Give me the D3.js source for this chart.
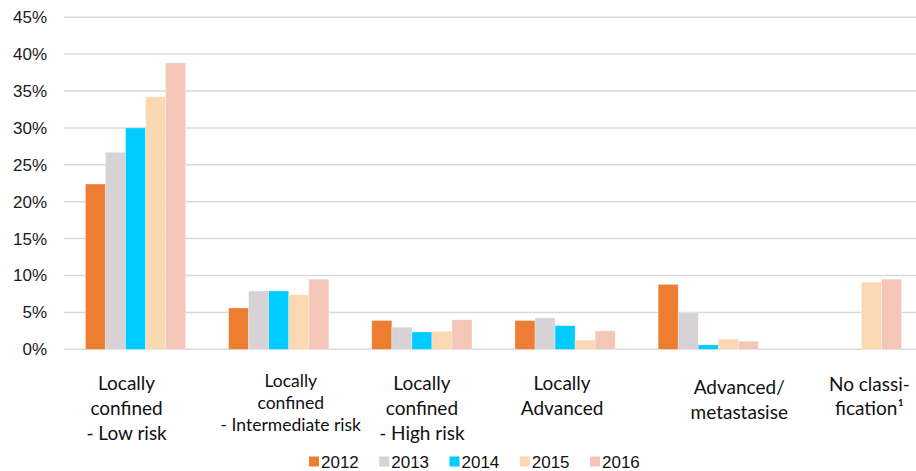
<!DOCTYPE html>
<html>
<head>
<meta charset="utf-8">
<script src="https://cdn.jsdelivr.net/npm/d3@7"></script>
<style>
  body { margin: 0; background: #fff; }
  .tick text { font-family: "Liberation Sans", Arial, sans-serif; }
</style>
</head>
<body>
<svg id="chart"></svg>
<script>
// categories on the x axis, each one is a list of label lines
var categories = ['lowRisk', 'intermediate', 'highRisk', 'advanced', 'metastasis', 'noClass'];
var categoryLines = [
    ['Locally', 'confined', '- Low risk'],
    ['Locally', 'confined', '- Intermediate risk'],
    ['Locally', 'confined', '- High risk'],
    ['Locally', 'Advanced'],
    ['Advanced/', 'metastasise'],
    ['No classi-', 'fication\u00b9']
];
var years = ['2012', '2013', '2014', '2015', '2016'];
var colors = ['#ED7D31', '#D6D2D5', '#00CCFF', '#FAD8B2', '#F4C6B8'];

// percentages per year, one value per category (null = no bar)
var v2012 = [22.4, 5.6, 3.9, 3.9, 8.8, null];
var v2013 = [26.7, 7.9, 3.0, 4.25, 4.95, null];
var v2014 = [30.0, 7.9, 2.35, 3.2, 0.6, null];
var v2015 = [34.2, 7.4, 2.45, 1.25, 1.4, 9.1];
var v2016 = [38.8, 9.5, 4.0, 2.5, 1.1, 9.5];
var series = [v2012, v2013, v2014, v2015, v2016];

var yTicks = [0, 5, 10, 15, 20, 25, 30, 35, 40, 45];

var width = 916, height = 471;
var svg = d3.select('#chart').attr('width', width).attr('height', height);

var x0 = d3.scaleBand()
    .domain(categories)
    .range([64, 923])
    .paddingInner(0.3)
    .paddingOuter(0.15);
var x1 = d3.scaleBand()
    .domain(years)
    .range([0, x0.bandwidth()]);
var y = d3.scaleLinear()
    .domain([0, 45])
    .range([349.3, 17.2]);

// gridlines
svg.append('g')
    .selectAll('line')
    .data(yTicks)
    .enter()
    .append('line')
    .attr('x1', 64)
    .attr('x2', width)
    .attr('y1', function(d) { return y(d); })
    .attr('y2', function(d) { return y(d); })
    .attr('stroke', '#D9D9D9')
    .attr('stroke-width', 1.5);

// y axis labels
var yAxis = d3.axisLeft(y)
    .tickValues(yTicks)
    .tickSize(0)
    .tickPadding(0)
    .tickFormat(function(d) { return d + '%'; });
var ya = svg.append('g')
    .attr('transform', 'translate(47,0)')
    .call(yAxis);
ya.select('.domain').remove();
ya.selectAll('text')
    .attr('font-size', 17)
    .attr('fill', '#1a1a1a');

// bars
var rows = [];
categories.forEach(function(c, i) {
    years.forEach(function(yr, j) {
        if (series[j][i] != null) rows.push({cat: c, year: yr, value: series[j][i], color: colors[j]});
    });
});
svg.append('g')
    .selectAll('rect')
    .data(rows)
    .enter()
    .append('rect')
    .attr('x', function(d) { return x0(d.cat) + x1(d.year); })
    .attr('width', x1.bandwidth())
    .attr('y', function(d) { return y(d.value); })
    .attr('height', function(d) { return y(0) - y(d.value); })
    .attr('fill', function(d) { return d.color; })
    .attr('stroke', '#fff')
    .attr('stroke-opacity', 0.5)
    .attr('stroke-width', 0.6);

// category labels (tweaks to match the original placement)
var labelShift = [-9, 12, 0, -3, 31, 18];
var labelTop = [383, 381, 383, 383, 387, 384];
var labelStep = [25, 22, 25, 25, 25, 24];
var labelSize = [19, 17.5, 19, 19, 19, 19];
var lab = svg.append('g')
    .attr('font-family', 'Lato, "Open Sans", sans-serif')
    .attr('fill', '#111');
categoryLines.forEach(function(lines, i) {
    var cx = x0(categories[i]) + x0.bandwidth() / 2 + labelShift[i];
    var t = lab.append('text')
        .attr('text-anchor', 'middle')
        .attr('font-size', labelSize[i]);
    lines.forEach(function(s, k) {
        t.append('tspan')
            .attr('x', cx)
            .attr('y', labelTop[i] + k * labelStep[i])
            .attr('dy', '0.35em')
            .text(s);
    });
});

// legend
var lx = d3.scalePoint().domain(years).range([309, 590]);
var leg = svg.append('g')
    .selectAll('g')
    .data(years)
    .enter()
    .append('g')
    .attr('transform', function(d) { return 'translate(' + lx(d) + ',0)'; });
leg.append('rect')
    .attr('x', 0)
    .attr('y', 456.5)
    .attr('width', 10)
    .attr('height', 10)
    .attr('fill', function(d, i) { return colors[i]; });
leg.append('text')
    .attr('x', 12)
    .attr('y', 467.5)
    .attr('font-family', '"Liberation Sans", Arial, sans-serif')
    .attr('font-size', 17)
    .attr('fill', '#111')
    .text(function(d) { return d; });
</script>
</body>
</html>
